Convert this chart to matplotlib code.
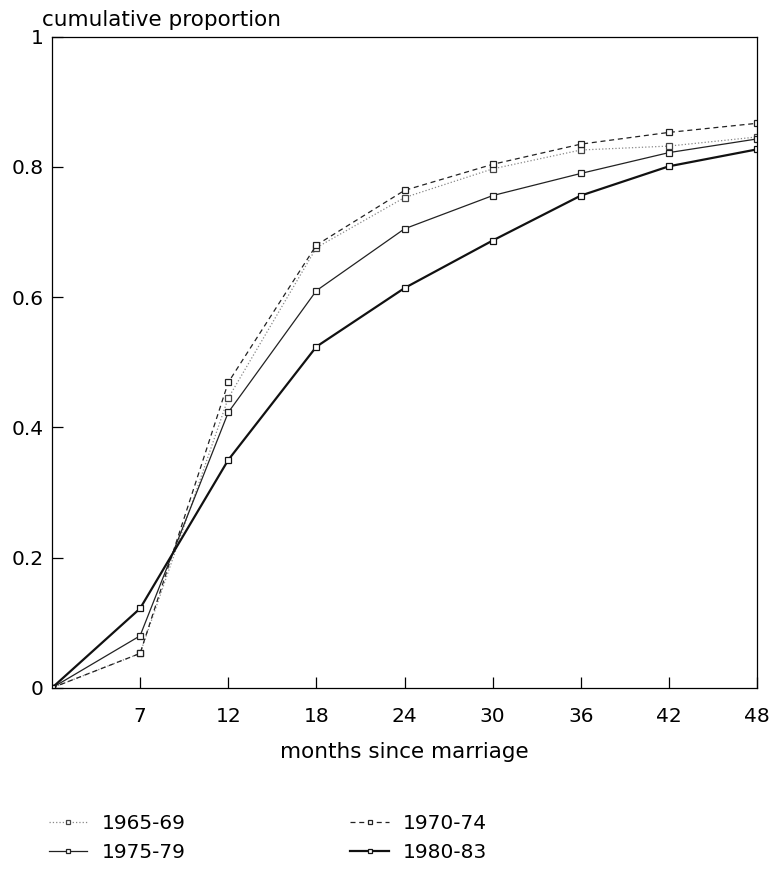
import numpy as np
import matplotlib
matplotlib.use("Agg")
import matplotlib.pyplot as plt

plt.rcParams['font.family'] = ['DejaVu Sans']

# months since marriage (first tick is labelled 7)
months = [0, 6, 12, 18, 24, 30, 36, 42, 48]
tick_pos = [6, 12, 18, 24, 30, 36, 42, 48]
tick_labels = ["7", "12", "18", "24", "30", "36", "42", "48"]

# cumulative proportion by marriage cohort
p_1965 = [0, 0.053, 0.445, 0.676, 0.753, 0.797, 0.826, 0.832, 0.846]
p_1970 = [0, 0.053, 0.469, 0.680, 0.764, 0.804, 0.835, 0.853, 0.867]
p_1975 = [0, 0.080, 0.423, 0.610, 0.705, 0.756, 0.790, 0.822, 0.843]
p_1980 = [0, 0.122, 0.350, 0.524, 0.614, 0.687, 0.756, 0.801, 0.827]

fig = plt.figure(figsize=(7.75, 8.73), dpi=100)
ax = fig.add_axes([0.067, 0.212, 0.910, 0.746])

mk = dict(marker="s", markersize=3.8, markerfacecolor="white", markeredgewidth=0.9)
l1, = ax.plot(months, p_1965, ls=":", lw=0.9, color="#888888", markeredgecolor="#444444", label="1965-69", **mk)
l2, = ax.plot(months, p_1970, ls=(0, (4, 3)), lw=0.9, color="#222222", markeredgecolor="#222222", label="1970-74", **mk)
l3, = ax.plot(months, p_1975, ls="-", lw=0.9, color="#222222", markeredgecolor="#222222", label="1975-79", **mk)
l4, = ax.plot(months, p_1980, ls="-", lw=1.6, color="#111111", markeredgecolor="#111111", label="1980-83", **mk)

ax.set_xlim(0, 48)
ax.set_ylim(0, 1)
ax.set_xticks(tick_pos)
ax.set_xticklabels(tick_labels)
ax.set_yticks([0, 0.2, 0.4, 0.6, 0.8, 1])
ax.set_yticklabels(["0", "0.2", "0.4", "0.6", "0.8", "1"])
ax.tick_params(direction="in", length=8, width=0.9, labelsize=14.5, pad=6)
ax.tick_params(axis="x", pad=14)
for s in ax.spines.values():
    s.set_linewidth(0.9)

ax.set_xlabel("months since marriage", fontsize=15.5, labelpad=11)
fig.text(0.054, 0.966, "cumulative proportion", fontsize=15.5, ha="left", va="bottom")

fig.legend([l1, l3, l2, l4], ["1965-69", "1975-79", "1970-74", "1980-83"],
           ncol=2, loc="upper left", bbox_to_anchor=(0.040, 0.088),
           frameon=False, fontsize=14.5, handlelength=1.9, columnspacing=8.2,
           labelspacing=0.5, handletextpad=0.7, markerscale=0.9)

fig.savefig("out.png", dpi=100)
